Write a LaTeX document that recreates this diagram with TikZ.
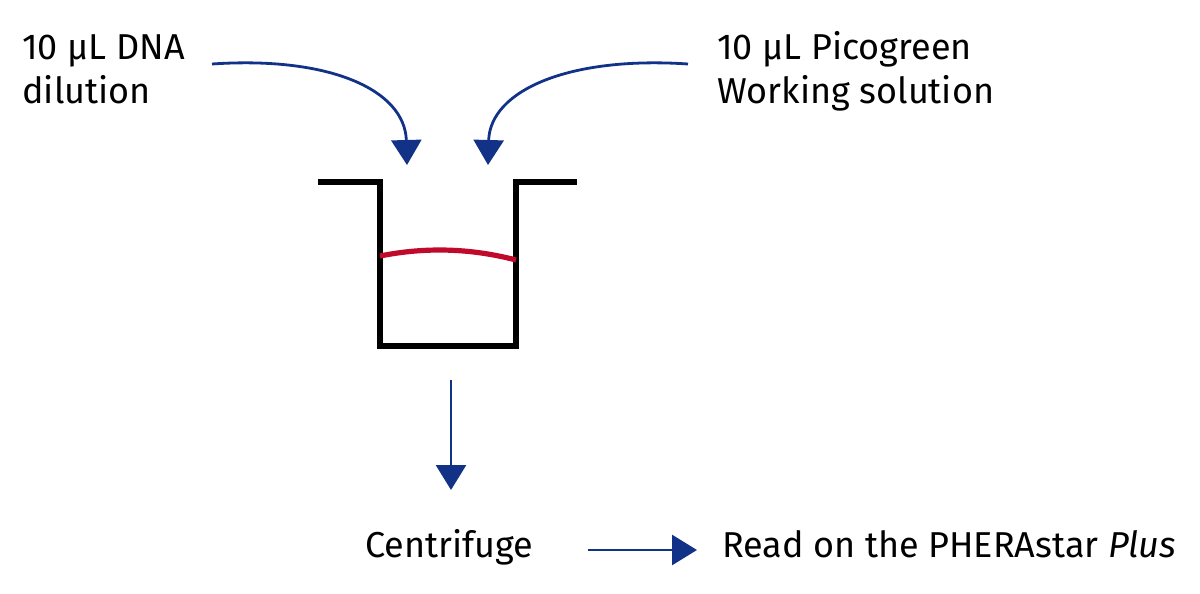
\documentclass[tikz,border=0pt]{standalone}
\usepackage{fontspec}
\setmainfont{Fira Sans}
\usetikzlibrary{arrows.meta,positioning}
\definecolor{arrowblue}{RGB}{18,50,135}
\definecolor{meniscus}{RGB}{192,10,44}

\begin{document}
\begin{tikzpicture}[x=0.5pt,y=-0.5pt,
        lbl/.style={inner sep=0pt,align=left,font=\fontsize{18}{22}\selectfont},
        flow/.style={draw=arrowblue,line width=1.4pt,-{Triangle[length=12.5pt,width=15pt]}},
        well/.style={draw=black,line width=2.6pt},
        liquid/.style={draw=meniscus,line width=2.6pt}]
    \useasboundingbox (0,0) rectangle (1200,594);

    \node[lbl,anchor=base west] (dna)  at (22,103)  {10 µL DNA\\dilution};
    \node[lbl,anchor=base west] (pico) at (717,103) {10 µL Picogreen\\Working solution};
    \node[lbl,anchor=base west] (cent) at (365,557) {Centrifuge};
    \node[lbl,anchor=base west] (read) at (722,557) {Read on the PHERAstar \textit{Plus}};

    \coordinate (dnaout)  at (212,64);
    \coordinate (picoout) at (688,64);
    \coordinate (tipL)    at (407,165);
    \coordinate (tipR)    at (488,165);
    \coordinate (wellout) at (451,380);
    \coordinate (tipD)    at (451,490);
    \coordinate (centout) at (588,550);
    \coordinate (tipE)    at (697,550);

    % the well
    \draw[well] (318,182) -- (380,182) -- (380,346) -- (516,346) -- (516,182) -- (577,182);
    \draw[liquid] (380,256) .. controls (425,247) and (470,248) .. (516,260);

    \begin{scope}[flow]
        \draw (dnaout)  .. controls (330,56) and (405,90) .. (tipL);
        \draw (picoout) .. controls (570,56) and (490,90) .. (tipR);
        \draw (wellout) -- (tipD);
        \draw (centout) -- (tipE);
    \end{scope}
\end{tikzpicture}
\end{document}
